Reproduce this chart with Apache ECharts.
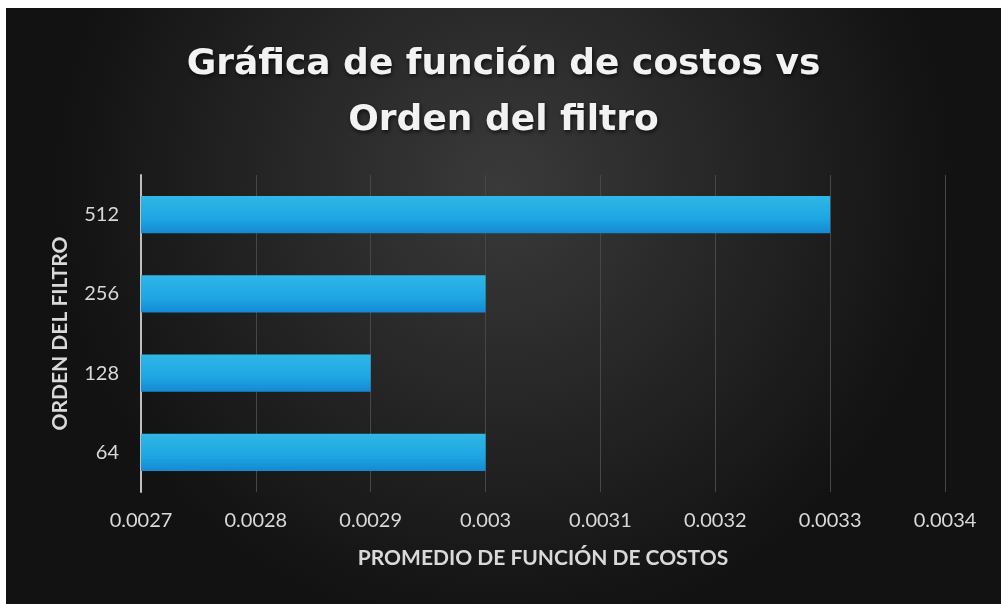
<!DOCTYPE html>
<html>
<head>
<meta charset="utf-8">
<script src="https://cdn.jsdelivr.net/npm/echarts@6/dist/echarts.min.js"></script>
<style>
  html, body { margin: 0; padding: 0; background: #ffffff; }
  #chart { position: absolute; left: 6px; top: 8px; width: 995px; height: 596px; }
</style>
</head>
<body>
<div id="chart"></div>
<script>
// Filter order categories (bottom to top) and average cost-function values
const ordenes = ['64', '128', '256', '512'];
const promedioCostos = [0.003, 0.0029, 0.003, 0.0033];
const tituloLineas = ['Gráfica de función de costos vs', 'Orden del filtro'];
const ejeX = { min: 0.0027, max: 0.0034, interval: 0.0001 };

const chart = echarts.init(document.getElementById('chart'));

chart.setOption({
  backgroundColor: {
    type: 'radial', x: 0.5, y: 0.3, r: 0.75,
    colorStops: [
      { offset: 0, color: '#3a3a3a' },
      { offset: 0.55, color: '#242424' },
      { offset: 1, color: '#121212' }
    ]
  },
  title: {
    text: tituloLineas.join('\n'),
    left: 'center',
    top: 24,
    textStyle: {
      fontFamily: 'DejaVu Sans',
      fontWeight: 'bold',
      fontSize: 36,
      lineHeight: 56,
      color: '#f2f2f2',
      textShadowColor: 'rgba(0,0,0,0.7)',
      textShadowBlur: 4,
      textShadowOffsetX: 1,
      textShadowOffsetY: 2
    }
  },
  grid: { left: 135, right: 56, top: 167, bottom: 112, containLabel: false },
  xAxis: {
    type: 'value',
    min: ejeX.min,
    max: ejeX.max,
    interval: ejeX.interval,
    name: 'PROMEDIO DE FUNCIÓN DE COSTOS',
    nameLocation: 'middle',
    nameGap: 56,
    nameTextStyle: { fontFamily: 'Lato', fontWeight: 'bold', fontSize: 21, color: '#d9d9d9' },
    axisLine: { show: false },
    axisTick: { show: false },
    axisLabel: {
      fontFamily: 'Lato', fontSize: 20, color: '#d9d9d9', margin: 19,
      formatter: v => String(parseFloat(v.toFixed(4)))
    },
    splitLine: { show: true, lineStyle: { color: '#474747', width: 1 } }
  },
  yAxis: {
    type: 'category',
    data: ordenes,
    name: 'ORDEN DEL FILTRO',
    nameLocation: 'middle',
    nameRotate: 90,
    nameGap: 70,
    nameTextStyle: { fontFamily: 'Lato', fontWeight: 'bold', fontSize: 21, color: '#d9d9d9' },
    axisLine: { show: true, lineStyle: { color: '#bfbfbf', width: 2 } },
    axisTick: { show: false },
    axisLabel: { fontFamily: 'Lato', fontSize: 20, color: '#d9d9d9', margin: 22 },
    splitLine: { show: false }
  },
  series: [{
    type: 'bar',
    data: promedioCostos,
    barWidth: '47%',
    itemStyle: {
      color: {
        type: 'linear', x: 0, y: 0, x2: 0, y2: 1,
        colorStops: [
          { offset: 0, color: '#2fb7e6' },
          { offset: 0.6, color: '#1ea6e4' },
          { offset: 1, color: '#1489d2' }
        ]
      },
      shadowColor: 'rgba(0,0,0,0.75)',
      shadowBlur: 6,
      shadowOffsetX: 1,
      shadowOffsetY: 3
    },
    z: 3
  }]
});
</script>
</body>
</html>
